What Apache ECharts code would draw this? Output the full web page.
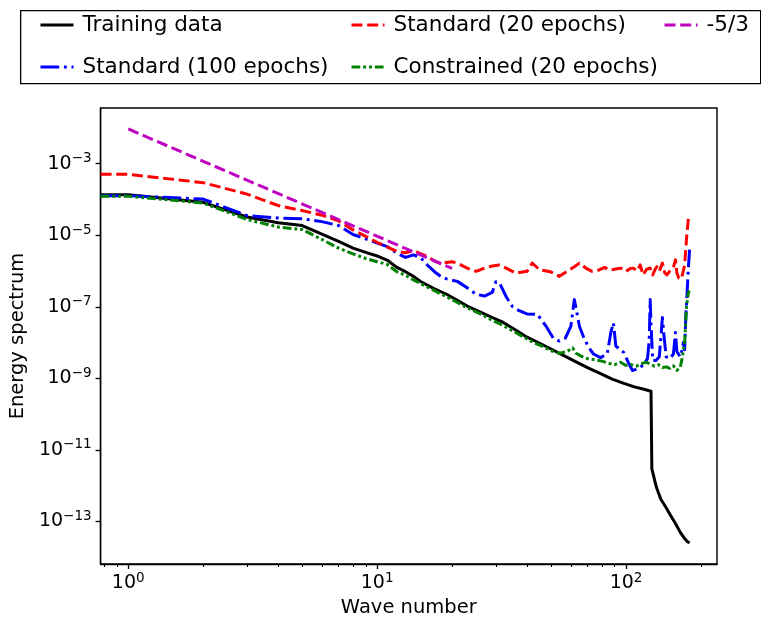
<!DOCTYPE html>
<html>
<head>
<meta charset="utf-8">
<script src="https://cdn.jsdelivr.net/npm/echarts@6.0.0/dist/echarts.min.js"></script>
<style>
  html, body { margin: 0; padding: 0; background: #fff; }
  #chart { width: 761px; height: 623px; }
</style>
</head>
<body>
<div id="chart"></div>
<script>
// Energy spectra, values stored as decimal exponents (E = 10^exp) per wave number.
const trainK = [1,2,3,4,5,6,7,8,9,10,11,12,13,14,15,17,19,21,23,26,29,32,36,40,45,50,56,63,70,79,88,98,108,117,126,127,129,131,133,138,145,150,158,165,172,176,180];
const trainExp = [-3.87,-4.08,-4.49,-4.65,-4.73,-4.97,-5.17,-5.36,-5.48,-5.58,-5.70,-5.90,-6.02,-6.15,-6.30,
  -6.50,-6.65,-6.82,-6.98,-7.15,-7.30,-7.43,-7.65,-7.85,-8.02,
  -8.18,-8.36,-8.54,-8.70,-8.87,-9.02,-9.14,-9.24,-9.30,-9.36,
  -11.54,-11.72,-11.92,-12.08,-12.38,-12.62,-12.80,-13.06,-13.30,-13.48,-13.56,-13.60];

const std100K = [1,2,3,4,5,6,7,8,9,10,11,12,13,14,15,16,17,18,19,21,23,25,27,29,30,31,33,35,37,40,44,45,48,51,54,57,60,62,63,65,68,71,74,79,84,87,89,91,95,98,102,106,110,114,118,122,124,125,126,128,132,136,139,140,142,145,150,155,158,160,165,168,170,172,174,176,178,180];
const std100Exp = [-3.895,-3.99,-4.45,-4.52,-4.54,-4.62,-4.73,-4.98,-5.10,-5.22,
  -5.32,-5.50,-5.62,-5.55,-5.64,-5.85,-6.02,-6.15,-6.22,
  -6.29,-6.47,-6.65,-6.70,-6.60,-6.30,-6.33,-6.72,-7.00,-7.10,
  -7.20,-7.21,-7.30,-7.57,-7.88,-7.96,-7.88,-7.55,-6.80,-7.05,
  -7.55,-7.90,-8.15,-8.32,-8.42,-8.32,-7.70,-7.45,-8.10,-8.20,
  -8.28,-8.55,-8.78,-8.75,-8.70,-8.60,-8.45,-7.90,-6.80,-7.50,
  -8.50,-8.50,-8.40,-7.60,-7.30,-7.80,-8.40,-8.45,-8.32,-7.72,
  -8.25,-8.40,-8.20,-8.00,-8.20,-7.20,-6.60,-5.92,-5.40];

const std20K = [1,2,3,4,5,6,7,8,9,10,11,12,13,14,15,16,17,18,20,21,23,25,27,29,31,33,36,40,42,45,48,50,54,58,62,65,69,73,78,82,86,90,95,100,104,107,111,114,117,121,125,128,131,133,136,140,143,146,151,155,158,160,163,167,170,172,175,178,180];
const std20Exp = [-3.296,-3.53,-3.85,-4.17,-4.31,-4.44,-4.60,-4.85,-5.03,-5.20,
  -5.33,-5.45,-5.49,-5.43,-5.52,-5.60,-5.72,-5.79,
  -5.74,-5.78,-5.92,-6.01,-5.92,-5.86,-5.83,-5.92,-6.06,-6.01,
  -5.78,-5.97,-6.00,-6.03,-6.15,-6.01,-5.88,-5.78,-5.92,-6.01,
  -5.97,-5.90,-5.98,-5.95,-5.92,-6.01,-5.93,-5.92,-6.00,-5.83,
  -6.11,-5.95,-5.92,-6.11,-5.95,-5.88,-6.01,-5.78,-6.05,-6.11,
  -5.97,-5.90,-5.69,-6.05,-6.20,-6.22,-6.25,-5.83,-5.09,-4.54,
  -4.45];

const conK = [1,2,3,4,5,6,7,8,9,10,11,12,13,14,15,17,19,21,23,26,29,32,36,40,43,46,50,54,58,61,63,66,70,75,80,85,90,95,100,105,110,115,120,125,130,135,140,145,150,155,160,165,168,172,175,178,180];
const conExp = [-3.91,-4.10,-4.56,-4.77,-4.84,-5.12,-5.36,-5.52,-5.65,-5.74,-5.82,-6.02,-6.12,-6.25,-6.36,
  -6.55,-6.72,-6.88,-7.03,-7.20,-7.38,-7.52,-7.72,-7.90,-8.02,
  -8.10,-8.23,-8.30,-8.25,-8.15,-8.30,-8.38,-8.45,-8.48,-8.52,
  -8.58,-8.62,-8.55,-8.64,-8.62,-8.66,-8.60,-8.55,-8.60,-8.66,
  -8.62,-8.70,-8.68,-8.72,-8.65,-8.78,-8.70,-8.45,-8.00,-7.00,
  -6.60,-6.55];

const slopeK = [1, 20];
const slopeExp = [-2.03, -5.93];

// axis labels
const xMajorTicks = [1, 10, 100];
const xMinorTicks = [0.8,0.9,2,3,4,5,6,7,8,9,20,30,40,50,60,70,80,90,200];
const yMajorTicks = [1e-13, 1e-11, 1e-9, 1e-7, 1e-5, 1e-3];

const names = {
  train: 'Training data',
  std100: 'Standard (100 epochs)',
  std20: 'Standard (20 epochs)',
  con: 'Constrained (20 epochs)',
  slope: '-5/3'
};

// axis extents (with the usual 5% log padding)
const X_MIN = 0.774, X_MAX = 232;
const Y_MIN = 6.45e-15, Y_MAX = 3.6e-2;

// k = 0 lies off the log axis; its segment runs flat to the left edge
function spectrum(ks, exps, withLeftEdge) {
  const pts = ks.map((k, i) => [k, Math.pow(10, exps[i])]);
  if (withLeftEdge) pts.unshift([X_MIN, pts[0][1]]);
  return pts;
}

const FONT = 'DejaVu Sans';
const MINUS = '\u2212';

function powLabel(v) {
  const e = Math.round(Math.log10(v));
  const s = e < 0 ? MINUS + (-e) : String(e);
  return '{b|10}{s|' + s + '}';
}
const powRich = {
  b: { fontFamily: FONT, fontSize: 19, color: '#000', lineHeight: 24 },
  s: { fontFamily: FONT, fontSize: 13.5, color: '#000', verticalAlign: 'top', lineHeight: 13 }
};

const chart = echarts.init(document.getElementById('chart'), null, { renderer: 'canvas' });

const dashed = [11, 4.7];
const dashDot = [18.7, 4.7, 2.9, 4.7];
const dashDotDot = [8.8, 2.9, 2.9, 2.9, 2.9, 2.9];

function lineSeries(name, data, color, type, z) {
  return {
    name, type: 'line', data, xAxisIndex: 0, yAxisIndex: 0,
    symbol: 'none', showSymbol: false, smooth: false, z,
    lineStyle: { color, width: 3, type, cap: 'butt', join: 'round' },
    itemStyle: { color },
    emphasis: { disabled: true },
    clip: true
  };
}

const legendText = { fontFamily: FONT, fontSize: 21.5, color: '#000', lineHeight: 24, padding: [0, 0, 0, 4] };
const legendCommon = {
  orient: 'vertical', top: 13, padding: 0, itemWidth: 33, itemHeight: 14, itemGap: 18,
  selectedMode: false, textStyle: legendText,
  lineStyle: { width: 3 },
  itemStyle: { opacity: 0, borderWidth: 0 }
};

const option = {
  animation: false,
  backgroundColor: '#fff',
  graphic: [{
    type: 'rect', left: 20, top: 10, z: 0,
    shape: { width: 740, height: 73 },
    style: { fill: '#fff', stroke: '#000', lineWidth: 1.3 }
  }],
  legend: [
    Object.assign({}, legendCommon, { left: 39, data: [names.train, names.std100] }),
    Object.assign({}, legendCommon, { left: 350, data: [names.std20, names.con] }),
    Object.assign({}, legendCommon, { left: 663, data: [names.slope] })
  ],
  grid: { left: 100, right: 44, top: 108, bottom: 54, show: true, borderColor: '#000', borderWidth: 1.4, backgroundColor: 'transparent' },
  xAxis: [{
    type: 'log', logBase: 10, min: X_MIN, max: X_MAX, position: 'bottom',
    name: 'Wave number', nameLocation: 'middle', nameGap: 34,
    nameTextStyle: { fontFamily: FONT, fontSize: 19.5, color: '#000' },
    axisLine: { show: true, lineStyle: { color: '#000', width: 1.4 } },
    axisTick: { show: true, length: 5, lineStyle: { color: '#000', width: 1.3 }, customValues: xMajorTicks },
    axisLabel: { show: true, margin: 7, customValues: xMajorTicks, formatter: powLabel, rich: powRich },
    splitLine: { show: false }, minorTick: { show: false }
  }, {
    type: 'log', logBase: 10, min: X_MIN, max: X_MAX, position: 'bottom', gridIndex: 0,
    axisLine: { show: false },
    axisTick: { show: true, length: 3, lineStyle: { color: '#000', width: 1.1 }, customValues: xMinorTicks },
    axisLabel: { show: false },
    splitLine: { show: false }
  }],
  yAxis: [{
    type: 'log', logBase: 10, min: Y_MIN, max: Y_MAX,
    name: 'Energy spectrum', nameLocation: 'middle', nameGap: 72, nameRotate: 90,
    nameTextStyle: { fontFamily: FONT, fontSize: 19.5, color: '#000' },
    axisLine: { show: true, lineStyle: { color: '#000', width: 1.4 } },
    axisTick: { show: true, length: 5, lineStyle: { color: '#000', width: 1.3 }, customValues: yMajorTicks },
    axisLabel: { show: true, margin: 9, customValues: yMajorTicks, formatter: powLabel, rich: powRich },
    splitLine: { show: false }, minorTick: { show: false }
  }],
  series: [
    lineSeries(names.train, spectrum(trainK, trainExp, true), '#000000', 'solid', 2),
    lineSeries(names.std100, spectrum(std100K, std100Exp, true), '#0000ff', dashDot, 3),
    lineSeries(names.std20, spectrum(std20K, std20Exp, true), '#ff0000', dashed, 4),
    lineSeries(names.con, spectrum(conK, conExp, true), '#008000', dashDotDot, 5),
    lineSeries(names.slope, spectrum(slopeK, slopeExp, false), '#bf00bf', dashed, 6)
  ]
};

chart.setOption(option);
</script>
</body>
</html>
